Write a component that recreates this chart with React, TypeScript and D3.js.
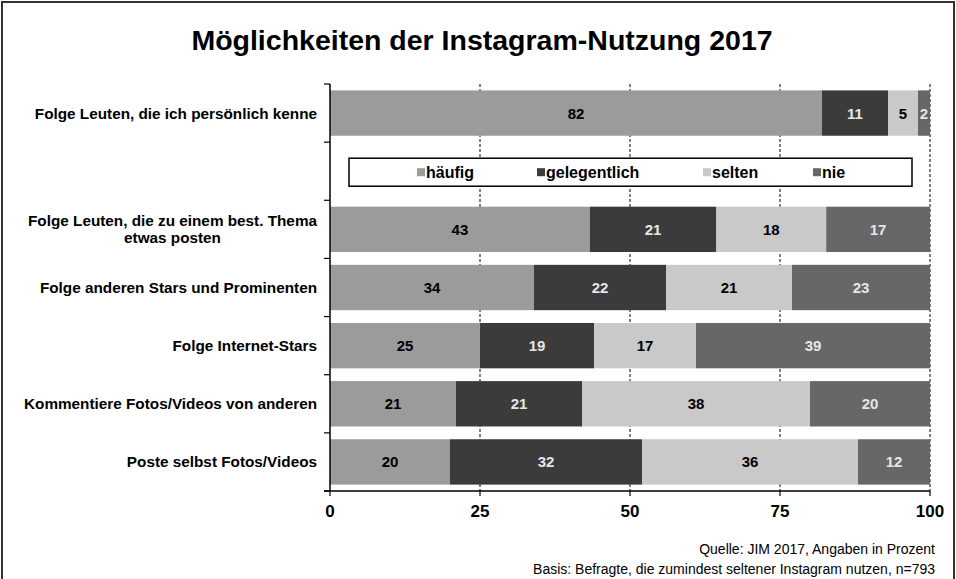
import * as d3 from 'd3';
import { useEffect, useRef } from 'react';

const categories = [
  'Folge Leuten, die ich persönlich kenne',
  '',
  'Folge Leuten, die zu einem best. Thema|etwas posten',
  'Folge anderen Stars und Prominenten',
  'Folge Internet-Stars',
  'Kommentiere Fotos/Videos von anderen',
  'Poste selbst Fotos/Videos',
];
const seriesNames = ['häufig', 'gelegentlich', 'selten', 'nie'];
const haeufig = [82, null, 43.3, 34, 25, 21, 20];
const gelegentlich = [11, null, 21.1, 22, 19, 21, 32];
const selten = [5, null, 18.3, 21, 17, 38, 36];
const nie = [2, null, 17.3, 23, 39, 20, 12];
const xTicks = [0, 25, 50, 75, 100];

const colors = ['#9b9b9b', '#3b3b3b', '#c9c9c9', '#676767'];
const labelColors = ['#000', '#e6e6e6', '#000', '#e6e6e6'];

const W = 956;
const H = 579;
const font = '"Liberation Sans", Arial, sans-serif';

export default function App() {
  const svgRef = useRef<SVGSVGElement>(null);

  useEffect(() => {
    const svg = d3.select(svgRef.current);
    svg.selectAll('*').remove();

    const x = d3.scaleLinear().domain([0, 100]).range([330, 930]);
    const y = d3.scaleBand<number>()
      .domain(d3.range(categories.length))
      .range([84, 491])
      .paddingInner(0.22)
      .paddingOuter(0.11);

    // frame
    svg.append('rect')
      .attr('x', 2).attr('y', 2).attr('width', W - 4).attr('height', H + 10)
      .attr('fill', '#fff').attr('stroke', '#333').attr('stroke-width', 2);

    svg.append('text')
      .attr('x', 482).attr('y', 50)
      .attr('text-anchor', 'middle')
      .attr('font-family', font).attr('font-weight', 'bold').attr('font-size', 28.5)
      .text('Möglichkeiten der Instagram-Nutzung 2017');

    // dashed gridlines behind bars
    svg.append('g').selectAll('line')
      .data(xTicks.slice(1))
      .join('line')
      .attr('x1', d => x(d)).attr('x2', d => x(d))
      .attr('y1', 84).attr('y2', 491)
      .attr('stroke', '#000').attr('stroke-width', 1)
      .attr('stroke-dasharray', '3 2');

    const table = categories.map((c, i) => ({
      label: c,
      values: [haeufig[i], gelegentlich[i], selten[i], nie[i]],
    }));

    const bars = svg.append('g');
    table.forEach((row, i) => {
      if (row.values[0] == null) return;
      let acc = 0;
      row.values.forEach((v, k) => {
        const val = v as number;
        const x0 = x(acc);
        const x1 = x(acc + val);
        acc += val;
        bars.append('rect')
          .attr('x', x0).attr('y', y(i)!)
          .attr('width', x1 - x0).attr('height', y.bandwidth())
          .attr('fill', colors[k]);
        bars.append('text')
          .attr('x', (x0 + x1) / 2).attr('y', y(i)! + y.bandwidth() / 2)
          .attr('text-anchor', 'middle').attr('dominant-baseline', 'central')
          .attr('font-family', font).attr('font-weight', 'bold').attr('font-size', 15)
          .attr('fill', labelColors[k])
          .text(Math.round(val));
      });
    });

    // category labels
    const lab = svg.append('g')
      .attr('font-family', font).attr('font-weight', 'bold').attr('font-size', 15.3)
      .attr('fill', '#000');
    table.forEach((row, i) => {
      if (!row.label) return;
      const lines = row.label.split('|');
      const cy = y(i)! + y.bandwidth() / 2;
      if (lines.length === 1) {
        lab.append('text')
          .attr('x', 317).attr('y', cy)
          .attr('text-anchor', 'end').attr('dominant-baseline', 'central')
          .text(lines[0]);
      } else {
        const first = lab.append('text')
          .attr('x', 317).attr('y', cy - 8.5)
          .attr('text-anchor', 'end').attr('dominant-baseline', 'central')
          .text(lines[0]);
        const w = (first.node() as SVGTextElement).getComputedTextLength();
        lab.append('text')
          .attr('x', 317 - w / 2).attr('y', cy + 8.5)
          .attr('text-anchor', 'middle').attr('dominant-baseline', 'central')
          .text(lines[1]);
      }
    });

    // y axis
    svg.append('line')
      .attr('x1', 330).attr('x2', 330).attr('y1', 84).attr('y2', 491)
      .attr('stroke', '#000').attr('stroke-width', 1.5);
    const bounds = d3.range(categories.length + 1).map(i => 84 + i * y.step());
    svg.append('g').selectAll('line')
      .data(bounds)
      .join('line')
      .attr('x1', 324).attr('x2', 330)
      .attr('y1', d => d).attr('y2', d => d)
      .attr('stroke', '#000').attr('stroke-width', 1.2);

    // x axis
    const xAxis = svg.append('g').attr('transform', 'translate(0,491)');
    xAxis.append('line')
      .attr('x1', 324).attr('x2', 930)
      .attr('stroke', '#000').attr('stroke-width', 1.5);
    xAxis.selectAll('line.tick')
      .data(xTicks)
      .join('line')
      .attr('class', 'tick')
      .attr('x1', d => x(d)).attr('x2', d => x(d))
      .attr('y1', 0).attr('y2', 5)
      .attr('stroke', '#000').attr('stroke-width', 1.2);
    xAxis.selectAll('text')
      .data(xTicks)
      .join('text')
      .attr('x', d => x(d)).attr('y', 26)
      .attr('text-anchor', 'middle')
      .attr('font-family', font).attr('font-weight', 'bold').attr('font-size', 17)
      .text(d => d);

    // legend inside the empty band
    const ly = y(1)! + y.bandwidth() / 2 + 1;
    svg.append('rect')
      .attr('x', 349).attr('y', ly - 14).attr('width', 563).attr('height', 28)
      .attr('fill', '#fff').attr('stroke', '#000').attr('stroke-width', 1.5);
    const legendX = [417, 537, 703, 813];
    seriesNames.forEach((s, k) => {
      svg.append('rect')
        .attr('x', legendX[k]).attr('y', ly - 4).attr('width', 8).attr('height', 8)
        .attr('fill', colors[k]);
      svg.append('text')
        .attr('x', legendX[k] + 9).attr('y', ly)
        .attr('dominant-baseline', 'central')
        .attr('font-family', font).attr('font-weight', 'bold').attr('font-size', 16)
        .text(s);
    });

    // source notes
    const notes = ['Quelle: JIM 2017, Angaben in Prozent', 'Basis: Befragte, die zumindest seltener Instagram nutzen, n=793'];
    svg.append('g').selectAll('text')
      .data(notes)
      .join('text')
      .attr('x', 935).attr('y', (d, i) => 554 + i * 20)
      .attr('text-anchor', 'end')
      .attr('font-family', font).attr('font-size', 14)
      .text(d => d);
  }, []);

  return (
    <svg
      ref={svgRef}
      width={W}
      height={H}
      viewBox={`0 0 ${W} ${H}`}
      style={{ position: 'absolute', left: 0, top: 0, display: 'block', background: '#fff' }}
    />
  );
}
